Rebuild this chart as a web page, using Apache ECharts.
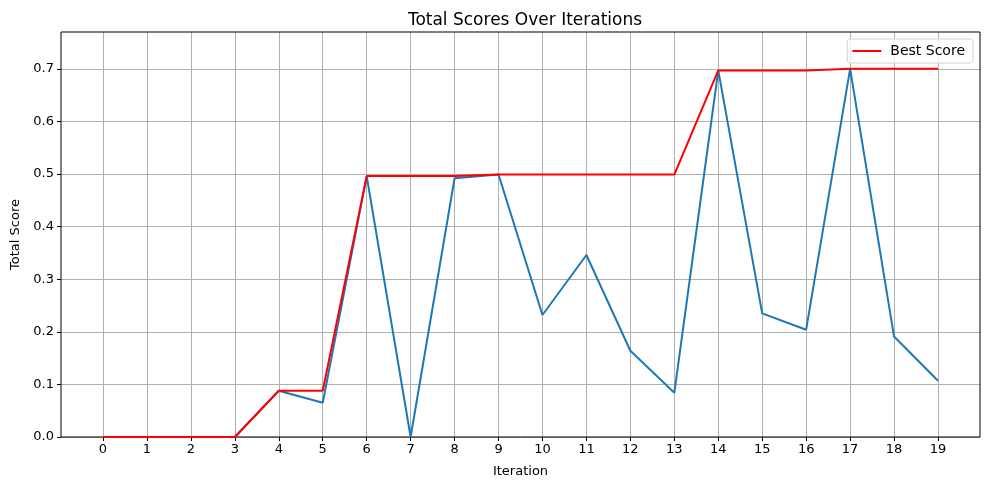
<!DOCTYPE html>
<html>
<head>
<meta charset="utf-8">
<script src="https://cdn.jsdelivr.net/npm/echarts@6/dist/echarts.min.js"></script>
<style>
  html, body { margin: 0; padding: 0; background: #fff; }
  #main { width: 989px; height: 490px; }
</style>
</head>
<body>
<div id="main"></div>
<script>
// values
const iterations = [0, 1, 2, 3, 4, 5, 6, 7, 8, 9, 10, 11, 12, 13, 14, 15, 16, 17, 18, 19];
const totalScores = [0, 0, 0, 0, 0.088, 0.065, 0.496, 0, 0.492, 0.499, 0.232, 0.346, 0.164, 0.084, 0.697, 0.235, 0.204, 0.700, 0.191, 0.107];
const bestScores = [0, 0, 0, 0, 0.088, 0.088, 0.496, 0.496, 0.496, 0.499, 0.499, 0.499, 0.499, 0.499, 0.697, 0.697, 0.697, 0.700, 0.700, 0.700];
const yTicks = [0, 0.1, 0.2, 0.3, 0.4, 0.5, 0.6, 0.7];

const font = 'DejaVu Sans';
const gridColor = '#b0b0b0';

const chart = echarts.init(document.getElementById('main'));

chart.setOption({
  animation: false,
  textStyle: { fontFamily: font },
  title: {
    text: 'Total Scores Over Iterations',
    left: 520,
    top: 7,
    textAlign: 'center',
    textStyle: { fontFamily: font, fontSize: 17, fontWeight: 'normal', color: '#000' }
  },
  legend: {
    data: ['Best Score'],
    right: 16,
    top: 39,
    orient: 'vertical',
    icon: 'rect',
    itemWidth: 29,
    itemHeight: 2,
    itemGap: 8,
    padding: [5, 8, 5, 5],
    borderColor: '#d6d6d6',
    borderWidth: 1,
    borderRadius: 3,
    backgroundColor: 'rgba(255,255,255,0.8)',
    textStyle: { fontFamily: font, fontSize: 14, color: '#000', padding: [0, 0, 0, 4] }
  },
  grid: [
    { left: 61, right: 9, top: 32, bottom: 53, outerBoundsMode: 'none', containLabel: false,
      show: true, borderColor: '#000', borderWidth: 1, backgroundColor: 'transparent', z: 3 },
    { left: 103, right: 51, top: 32, bottom: 53, outerBoundsMode: 'none', containLabel: false }
  ],
  xAxis: [
    {
      gridIndex: 0, type: 'value', min: 0, max: 1, show: false
    },
    {
      gridIndex: 1, type: 'value', min: 0, max: 19, interval: 1,
      name: 'Iteration', nameLocation: 'middle', nameGap: 28,
      nameTextStyle: { fontFamily: font, fontSize: 13, color: '#000' },
      axisLine: { show: false },
      axisTick: { show: true, inside: false, length: 4, lineStyle: { color: '#000', width: 1 } },
      axisLabel: { fontFamily: font, fontSize: 13, color: '#000', margin: 6,
        formatter: v => String(iterations[v]) },
      splitLine: { show: true, lineStyle: { color: gridColor, width: 1 } }
    }
  ],
  yAxis: [
    {
      gridIndex: 0, type: 'value', min: 0, max: 0.77,
      name: 'Total Score', nameLocation: 'middle', nameGap: 38, nameRotate: 90,
      nameTextStyle: { fontFamily: font, fontSize: 13, color: '#000' },
      axisLine: { show: false },
      axisTick: { show: true, length: 4, customValues: yTicks, lineStyle: { color: '#000', width: 1 } },
      axisLabel: { fontFamily: font, fontSize: 13, color: '#000', margin: 7, customValues: yTicks,
        formatter: v => v.toFixed(1) },
      splitLine: { show: true, lineStyle: { color: gridColor, width: 1 } }
    },
    {
      gridIndex: 1, type: 'value', min: 0, max: 0.77, show: false,
      splitLine: { show: false }
    }
  ],
  series: [
    {
      name: 'Total Score',
      type: 'line',
      xAxisIndex: 1,
      yAxisIndex: 1,
      data: iterations.map((it, i) => [it, totalScores[i]]),
      showSymbol: false,
      lineStyle: { color: '#1f77b4', width: 2 },
      itemStyle: { color: '#1f77b4' },
      z: 4
    },
    {
      name: 'Best Score',
      type: 'line',
      xAxisIndex: 1,
      yAxisIndex: 1,
      data: iterations.map((it, i) => [it, bestScores[i]]),
      showSymbol: false,
      lineStyle: { color: '#ff0000', width: 2 },
      itemStyle: { color: '#ff0000' },
      z: 5
    }
  ]
});
</script>
</body>
</html>
